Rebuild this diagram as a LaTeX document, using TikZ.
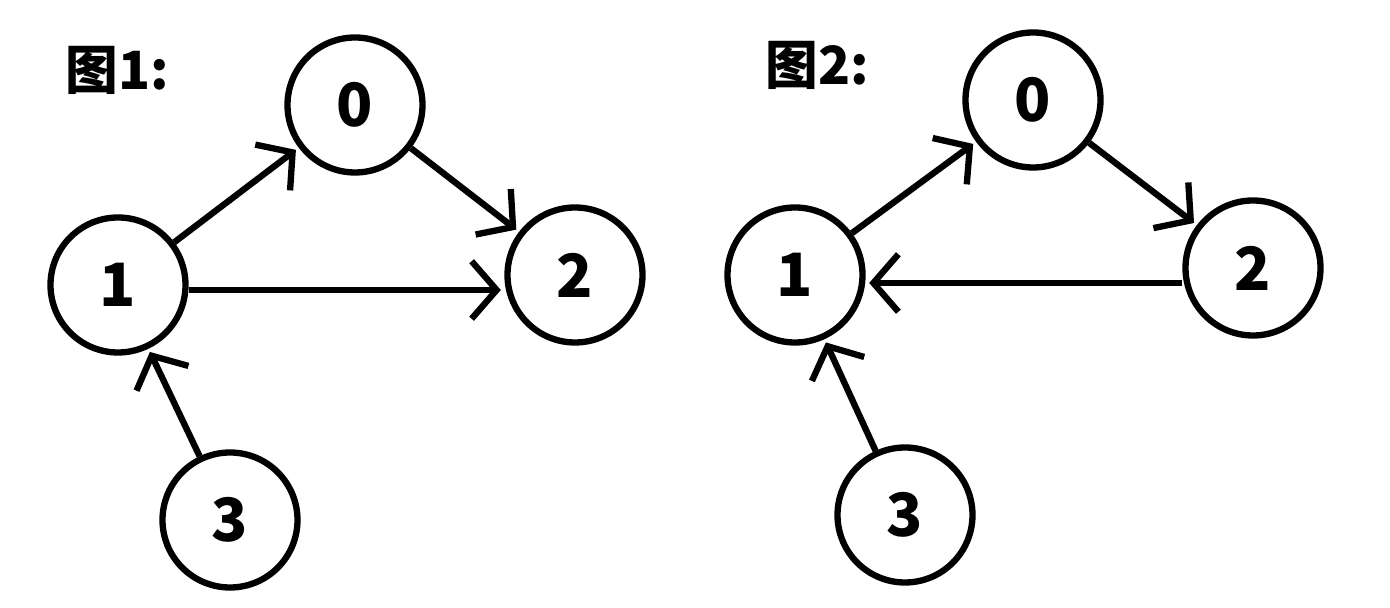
\documentclass[tikz,border=0pt]{standalone}
\usepackage{fontspec}
\setmainfont{Noto Sans CJK SC}
\usetikzlibrary{arrows.meta}

\begin{document}
\begin{tikzpicture}[
        vertex/.style={circle, draw, line width=3.6pt, minimum size=2.7cm, inner sep=0pt,
            font=\fontsize{34}{34}\selectfont\bfseries},
        edge/.style={line width=3.6pt, -{Straight Barb[length=0.5cm, width=1.15cm, line width=3.6pt]}, shorten >=2pt},
        title/.style={font=\fontsize{30}{30}\selectfont\bfseries}
    ]
        \useasboundingbox (0,0) rectangle (27.8,12.16);

        % Graph 1
        \node[title] (t1) at (2.35,10.75) {图1:};
        \node[vertex] (a0) at (7.1,10.06) {0};
        \node[vertex] (a1) at (2.36,6.46) {1};
        \node[vertex] (a2) at (11.5,6.66) {2};
        \node[vertex] (a3) at (4.6,1.76) {3};
        \draw[edge] (a1) -- (a0);
        \draw[edge] (a0) -- (a2);
        \draw[edge] (a1.east) ++(0,-0.1) coordinate (a1e) -- (a1e -| a2.west);
        \draw[edge] (a3) -- (a1);

        % Graph 2
        \node[title] (t2) at (16.35,10.85) {图2:};
        \node[vertex] (b0) at (20.66,10.16) {0};
        \node[vertex] (b1) at (15.9,6.66) {1};
        \node[vertex] (b2) at (25.06,6.8) {2};
        \node[vertex] (b3) at (18.1,1.86) {3};
        \draw[edge] (b1) -- (b0);
        \draw[edge] (b0) -- (b2);
        \draw[edge] (b2.west) ++(0,-0.3) coordinate (b2w) -- (b2w -| b1.east);
        \draw[edge] (b3) -- (b1);
    \end{tikzpicture}
\end{document}
